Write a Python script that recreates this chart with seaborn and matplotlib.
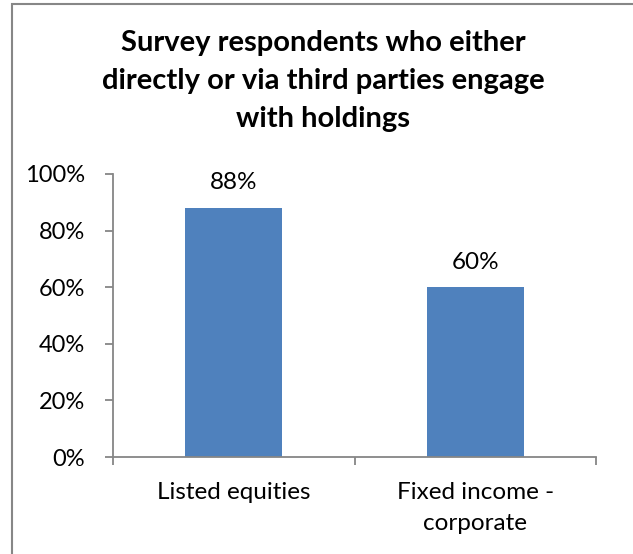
import matplotlib
matplotlib.use("Agg")
import matplotlib.pyplot as plt
from matplotlib.patches import Rectangle
from matplotlib.ticker import FixedLocator, PercentFormatter
import seaborn as sns
import pandas as pd

categories = ["Listed equities", "Fixed income -\ncorporate"]
shares = [0.88, 0.60]
value_labels = ["88%", "60%"]
title = "Survey respondents who either\ndirectly or via third parties engage\nwith holdings"

sns.set_theme(style="white")
plt.rcParams["font.family"] = ["Lato", "DejaVu Sans"]

df = pd.DataFrame({"category": categories, "share": shares})

fig = plt.figure(figsize=(6.33, 5.54), dpi=100)
ax = fig.add_axes([113 / 633, 1 - 457 / 554, (596 - 113) / 633, (457 - 174) / 554])

sns.barplot(data=df, x="category", y="share", color="#4F81BD", width=0.4,
            saturation=1, ax=ax, edgecolor="none")

ax.set_ylim(0, 1)
ax.set_xlim(-0.5, 1.5)
ax.yaxis.set_major_locator(FixedLocator([0, 0.2, 0.4, 0.6, 0.8, 1.0]))
ax.yaxis.set_major_formatter(PercentFormatter(1.0, decimals=0))

# category boundaries carry the tick marks, labels sit at bar centres
ax.xaxis.set_minor_locator(FixedLocator([-0.5, 0.5, 1.5]))
ax.tick_params(axis="x", which="major", length=0, pad=18, labelsize=17.5, colors="black")
ax.tick_params(axis="x", which="minor", length=6, width=1.3, color="#868686", direction="out", bottom=True)
ax.tick_params(axis="y", which="major", length=6, width=1.3, color="#868686", direction="out",
               left=True, pad=14, labelsize=17, labelcolor="black")
for lab in ax.get_xticklabels():
    lab.set_linespacing(1.6)
ax.set_xlabel("")
ax.set_ylabel("")

for side in ("top", "right"):
    ax.spines[side].set_visible(False)
for side in ("left", "bottom"):
    ax.spines[side].set_color("#868686")
    ax.spines[side].set_linewidth(1.3)

for patch, lab in zip(ax.patches, value_labels):
    ax.annotate(lab, (patch.get_x() + patch.get_width() / 2, patch.get_height()),
                xytext=(0, 10.5), textcoords="offset points", ha="center", va="bottom",
                fontsize=17.5, color="black")

fig.text(323 / 633, 1 - 30 / 554, title, ha="center", va="top", fontsize=21,
         fontweight="bold", linespacing=1.58, color="black")

fig.patches.append(Rectangle((12 / 633, -0.05), 1.0, 1 - 3.5 / 554 + 0.05,
                             transform=fig.transFigure, fill=False,
                             edgecolor="#878787", linewidth=1.5))

fig.savefig("out.png", dpi=100)
